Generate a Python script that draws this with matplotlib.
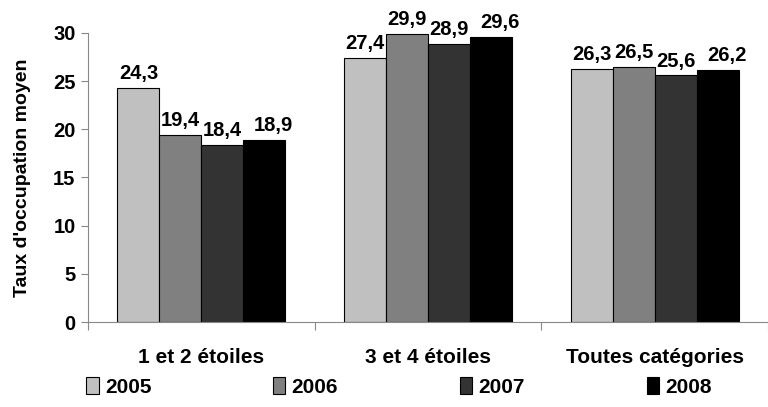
import numpy as np
import matplotlib.pyplot as plt

plt.rcParams['font.family'] = ['Liberation Sans', 'DejaVu Sans']
plt.rcParams['font.weight'] = 'bold'

categories = ['1 et 2 étoiles', '3 et 4 étoiles', 'Toutes catégories']
years = ['2005', '2006', '2007', '2008']
v2005 = [24.3, 27.4, 26.3]
v2006 = [19.4, 29.9, 26.5]
v2007 = [18.4, 28.9, 25.6]
v2008 = [18.9, 29.6, 26.2]
series = [v2005, v2006, v2007, v2008]
colors = ['#c0c0c0', '#808080', '#333333', '#000000']

fig = plt.figure(figsize=(7.68, 4.07), dpi=100)
ax = fig.add_axes([0.1146, 0.2088, 0.8854, 0.7102])

x = np.arange(len(categories))
w = 0.185
for i, vals in enumerate(series):
    pos = x + (i - 1.5) * w
    bars = ax.bar(pos, vals, w, color=colors[i], edgecolor='black', linewidth=0.8, label=years[i])
    for b, v in zip(bars, vals):
        # last series labels sit a little to the right, as in the original
        dx = 0.04 if i == 3 else 0.0
        ax.text(b.get_x() + b.get_width() / 2 + dx, v + 0.5, ('%.1f' % v).replace('.', ','),
                ha='center', va='bottom', fontsize=14.5, fontweight='bold')

ax.set_xlim(-0.5, 2.47)
ax.set_ylim(0, 30)
ax.set_yticks(range(0, 31, 5))
ax.set_xticks([-0.5, 0.5, 1.5, 2.5])
ax.set_xticklabels([])
ax.set_xticks(x, minor=True)
ax.set_xticklabels(categories, minor=True, fontsize=15, fontweight='bold')
ax.tick_params(axis='x', which='minor', length=0, pad=19)
ax.tick_params(axis='x', which='major', length=6, color='#888888', direction='out')
ax.tick_params(axis='y', length=5, color='#888888', labelsize=14.5, pad=4)
for s in ['top', 'right']:
    ax.spines[s].set_visible(False)
for s in ['left', 'bottom']:
    ax.spines[s].set_color('#888888')
ax.set_ylabel("Taux d'occupation moyen", fontsize=14, fontweight='bold', labelpad=16)

fig.legend(loc='lower left', bbox_to_anchor=(0.112, 0.025, 0.815, 0.1), mode='expand',
           ncol=4, frameon=False, borderaxespad=0, borderpad=0,
           handlelength=0.6, handleheight=0.9, handletextpad=0.3,
           prop={'weight': 'bold', 'size': 15})

fig.savefig('out.png', dpi=100)
